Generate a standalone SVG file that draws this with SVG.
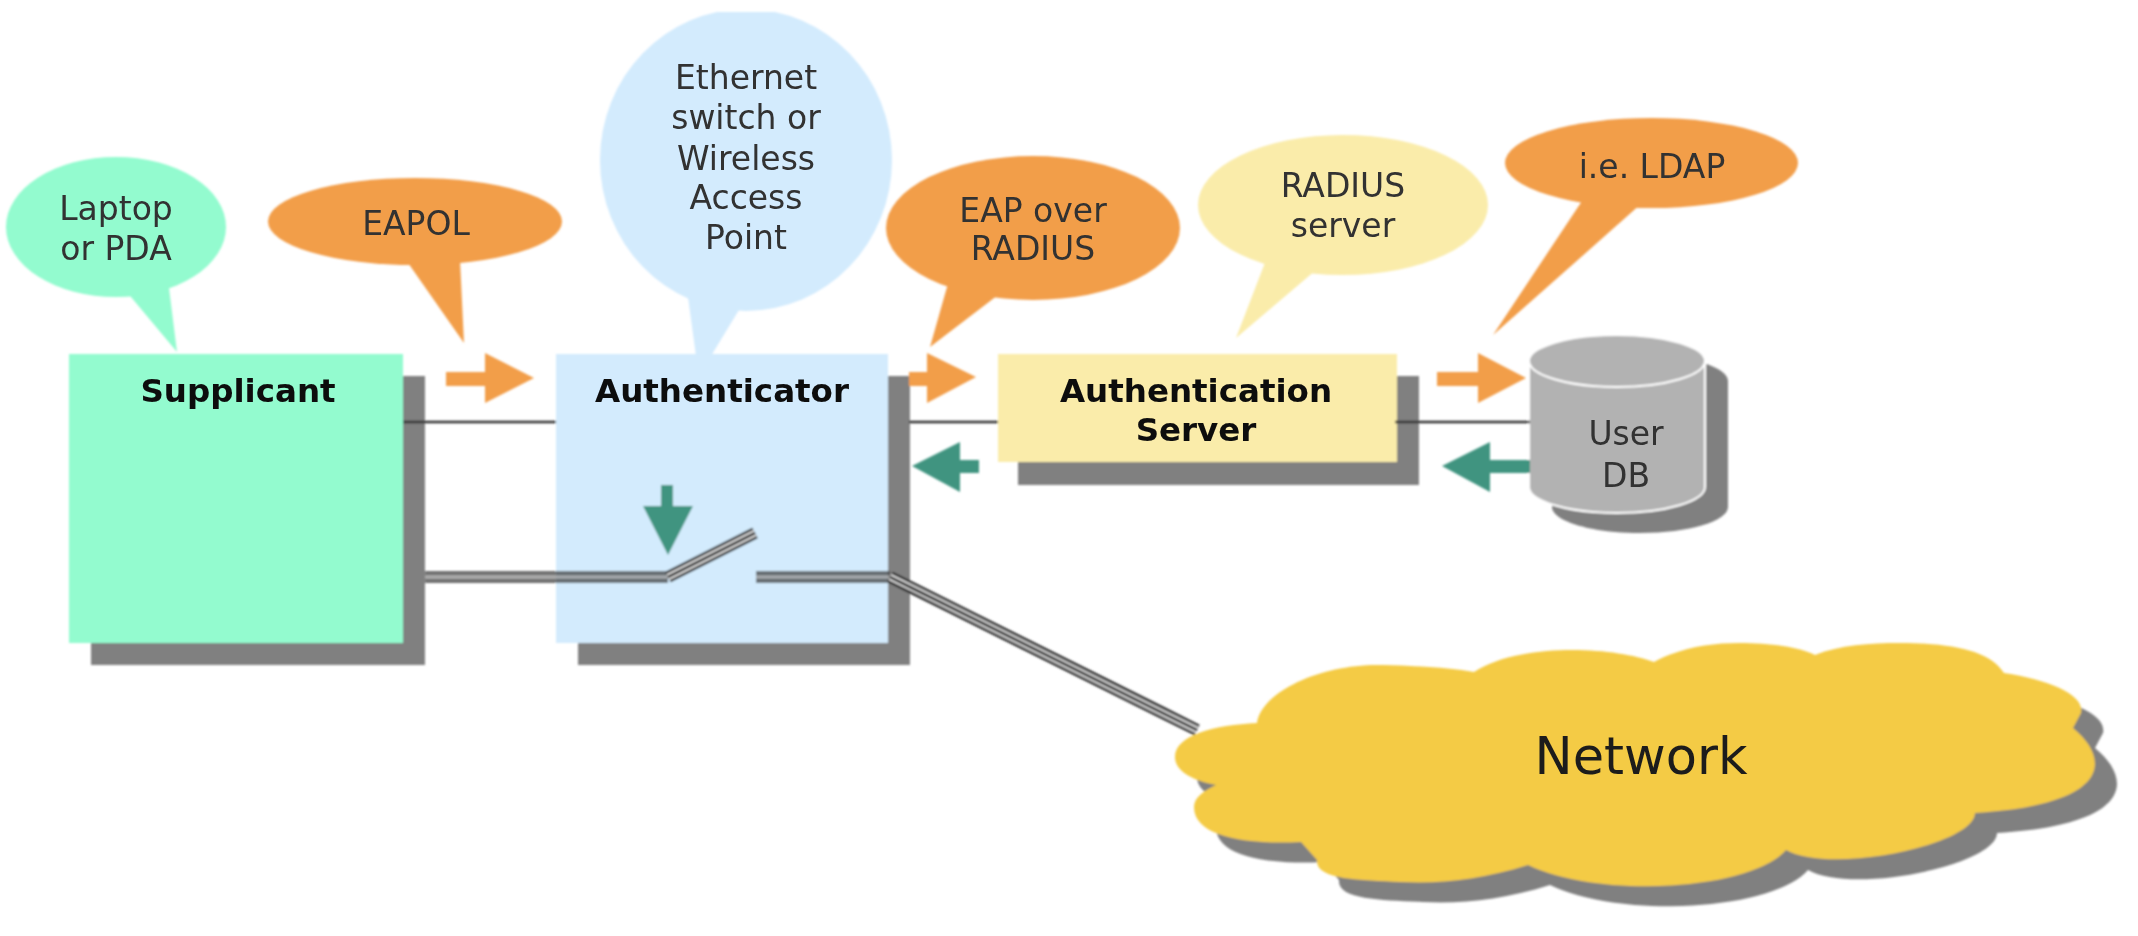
<svg xmlns="http://www.w3.org/2000/svg" xmlns:xlink="http://www.w3.org/1999/xlink" width="2138" height="936" viewBox="0 0 2138 936">
<style>
text{font-family:"DejaVu Sans","Liberation Sans",sans-serif;font-size:33px;text-anchor:middle;fill:#303030}
.b{font-weight:bold;font-size:32.500px;fill:#0a0a0a}
.shadow{fill:#808080}
.mint{fill:#93fbcf}.orange{fill:#f29e4a}.blue{fill:#d3ebfd}.yellow{fill:#faecaa}
.thin{stroke:#2e2e2e;stroke-width:2.500;fill:none}
.dOut{stroke:#3c3c3c;stroke-width:12;fill:none;opacity:.72}
.dIn{stroke:#fff;stroke-width:3;fill:none;opacity:.45}
.dgOut{stroke:#2c2c2c;stroke-width:12;fill:none}
.dgIn{stroke:#e6e6e6;stroke-width:6.500;fill:none}
.dgMid{stroke:#2c2c2c;stroke-width:3;fill:none}
.aGreen{fill:#3f9480}.aOrange{fill:#f29e4a}
</style>
<defs>
<filter id="soft" x="-2%" y="-2%" width="104%" height="104%"><feGaussianBlur stdDeviation="0.9"/></filter>
<filter id="softT" x="-5%" y="-5%" width="110%" height="110%"><feGaussianBlur stdDeviation="0.5"/></filter>
<clipPath id="top"><rect x="0" y="12" width="2138" height="924"/></clipPath>
<path id="cloudShape" d="M1257 723C1262 690 1325 663 1383 665C1420 666 1450 668 1474 672C1500 655 1540 650 1572 650C1605 650 1635 655 1654 662C1680 648 1710 643 1739 643C1770 643 1800 647 1815 655C1840 645 1870 643 1900 643C1950 643 1990 650 2004 673C2050 680 2085 695 2081 713L2073 728C2112 760 2110 805 1975 813C1975 845 1830 875 1786 850A145 50 0 0 1 1528 865C1480 880 1440 884 1400 882C1360 880 1315 880 1317 860L1301 842C1240 845 1194 835 1194 807C1194 797 1205 790 1216 785C1190 780 1175 770 1175 757C1175 735 1215 725 1257 723Z"/>
<path id="cylShape" d="M1529 361C1529 347 1568 335 1617 335C1666 335 1705 347 1705 361V487C1705 501 1666 513 1617 513C1568 513 1529 501 1529 487Z"/>
</defs>
<g filter="url(#soft)">
<g id="bubble-laptop">
<path class="mint" d="M131 297L177 352L169 288L100 250Z"/>
<ellipse class="mint" cx="116" cy="227" rx="110" ry="70"/>
</g>
<g id="bubble-eapol">
<path class="orange" d="M406 260L464 343L460 260Z"/>
<ellipse class="orange" cx="415" cy="221.500" rx="147" ry="43.500"/>
</g>
<g id="bubble-ethernet" clip-path="url(#top)">
<path class="blue" d="M687 290L696 356L711 356L742 305Z"/>
<ellipse class="blue" cx="746" cy="160" rx="146" ry="151"/>
</g>
<g id="bubble-eap">
<path class="orange" d="M949 280L930 347L1002 292Z"/>
<ellipse class="orange" cx="1033" cy="228" rx="147" ry="72"/>
</g>
<g id="bubble-radius">
<path class="yellow" d="M1266 260L1236 338L1316 270Z"/>
<ellipse class="yellow" cx="1343" cy="205" rx="145" ry="70"/>
</g>
<g id="bubble-ldap">
<path class="orange" d="M1584 198L1493 335L1642 203Z"/>
<ellipse class="orange" cx="1651.500" cy="163" rx="146.500" ry="45"/>
</g>
<g id="supplicant">
<rect class="shadow" x="91" y="376" width="334" height="289"/>
<rect class="mint" x="69" y="354" width="334" height="289"/>
</g>
<g id="authenticator">
<rect class="shadow" x="578" y="376" width="332" height="289"/>
<rect class="blue" x="556" y="354" width="332" height="289"/>
</g>
<g id="auth-server">
<rect class="shadow" x="1018" y="376" width="401" height="109"/>
<rect class="yellow" x="998" y="354" width="399" height="108"/>
</g>
<g id="user-db">
<use xlink:href="#cylShape" href="#cylShape" class="shadow" transform="translate(23 20)"/>
<use xlink:href="#cylShape" href="#cylShape" fill="#b2b2b2" stroke="#fff" stroke-width="2"/>
<path d="M1529 361C1529 375 1568 387 1617 387C1666 387 1705 375 1705 361" fill="none" stroke="#fff" stroke-width="2"/>
</g>
<g id="network">
<use xlink:href="#cloudShape" href="#cloudShape" class="shadow" transform="translate(22 20)"/>
<use xlink:href="#cloudShape" href="#cloudShape" fill="#f4cb44"/>
</g>
<g id="connectors">
<line class="thin" x1="403" y1="422" x2="556" y2="422"/>
<line class="thin" x1="909" y1="422" x2="998" y2="422"/>
<line class="thin" x1="1395" y1="422" x2="1530" y2="422"/>
<g id="double-lines">
<path class="dOut" d="M425 577H668"/>
<path class="dIn" d="M425 577H668"/>
<path class="dOut" d="M756 577H890"/>
<path class="dIn" d="M756 577H890"/>
<path class="dgOut" d="M668 577L755 533"/>
<path class="dgIn" d="M668 577L755 533"/>
<path class="dgMid" d="M668 577L755 533"/>
<path class="dgOut" d="M890 577L1197 730"/>
<path class="dgIn" d="M890 577L1197 730"/>
<path class="dgMid" d="M890 577L1197 730"/>
</g>
<path class="aOrange" d="M446 372H485V353L534 378L485 403V386H446Z"/>
<path class="aOrange" d="M909 372H927V353L976 377L927 403V386H909Z"/>
<path class="aOrange" d="M1437 372H1478V353L1526 378L1478 403V386H1437Z"/>
<path class="aGreen" d="M979 460H960V442L912 466L960 492V473H979Z"/>
<path class="aGreen" d="M1530 460H1490V442L1442 466L1490 492V473H1530Z"/>
<path class="aGreen" d="M661 485H673V506H693L668 555L643 506H661Z"/>
</g>
</g>
<g id="labels" filter="url(#softT)">
<text x="116" y="220">Laptop</text>
<text x="116" y="260">or PDA</text>
<text x="416" y="235">EAPOL</text>
<text x="746" y="89">Ethernet</text>
<text x="746" y="129">switch or</text>
<text x="746" y="170">Wireless</text>
<text x="746" y="209">Access</text>
<text x="746" y="249">Point</text>
<text x="1033" y="222">EAP over</text>
<text x="1033" y="260">RADIUS</text>
<text x="1343" y="197">RADIUS</text>
<text x="1343" y="237">server</text>
<text x="1652" y="178">i.e. LDAP</text>
<text class="b" x="238" y="402">Supplicant</text>
<text class="b" x="722" y="402">Authenticator</text>
<text class="b" x="1196" y="402">Authentication</text>
<text class="b" x="1196" y="441">Server</text>
<text x="1626" y="445">User</text>
<text x="1626" y="487">DB</text>
<text x="1641" y="774" style="font-size:51px;fill:#1a1a1a">Network</text>
</g>
</svg>
